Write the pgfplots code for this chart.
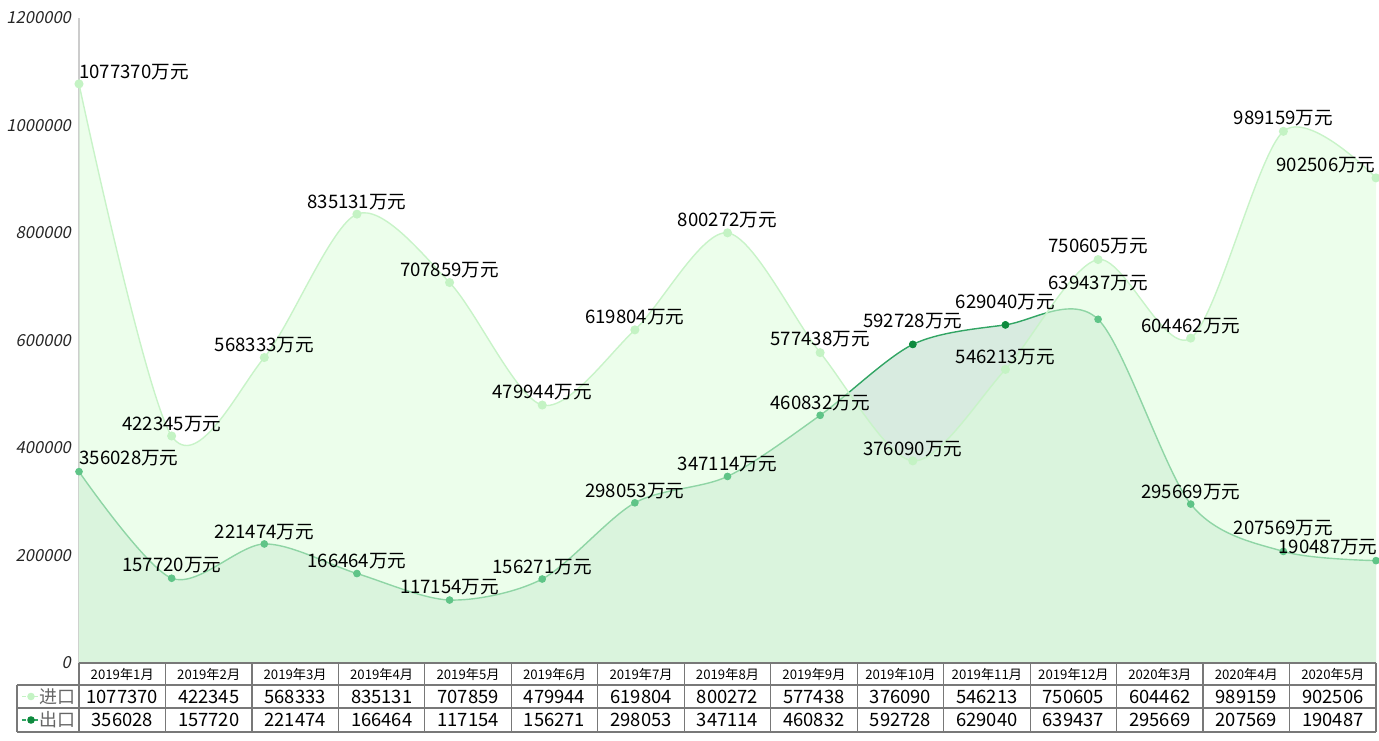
\documentclass[border=0pt]{standalone}
\usepackage{pgfplots}
\pgfplotsset{compat=1.18}
\usepackage{pgfplotstable}
\usepackage{fontspec}
\setmainfont{Noto Sans CJK SC}
\newfontfamily\tickfont{Noto Sans CJK SC}[FakeSlant=0.2]
\definecolor{impfill}{RGB}{220,253,219}
\definecolor{impline}{RGB}{200,243,200}
\definecolor{impmark}{RGB}{196,243,196}
\definecolor{expfill}{RGB}{216,235,224}
\definecolor{expline}{RGB}{50,165,100}
\definecolor{expmark}{RGB}{14,138,62}
\definecolor{expmarklight}{RGB}{95,196,135}
\definecolor{tblgrid}{RGB}{120,120,120}

\pgfplotstableread{
idx month imp exp dxi dyi dxe dye
0 2019年1月 1077370 356028 27.5 6 25 6.5
1 2019年2月 422345 157720 0 6 0 6.5
2 2019年3月 568333 221474 0 6 0 6
3 2019年4月 835131 166464 0 6 0 6
4 2019年5月 707859 117154 0 6 0 6.5
5 2019年6月 479944 156271 0 6.5 0 6
6 2019年7月 619804 298053 0 6.5 0 6
7 2019年8月 800272 347114 0 6.5 0 6
8 2019年9月 577438 460832 0 6.5 0 6
9 2019年10月 376090 592728 0 6 0 11.5
10 2019年11月 546213 629040 0 6 0 11.5
11 2019年12月 750605 639437 0 6.5 0 18
12 2020年3月 604462 295669 0 6 0 6
13 2020年4月 989159 207569 0 6.5 0 11.5
14 2020年5月 902506 190487 -25 6.5 -24 6.5
}\data

% export points lying above the import area (seen without the import overlay)
\pgfplotstableread{
idx exp
9 592728
10 629040
}\exptop

\begin{document}
\begin{tikzpicture}
\useasboundingbox (-39.5pt,-38.5pt) rectangle (650pt,331.5pt);
\begin{axis}[
  at={(0,0)}, anchor=south west,
  scale only axis, width=648.5pt, height=322.5pt,
  xmin=0, xmax=14, ymin=0, ymax=1200000,
  axis x line=none, axis y line*=left,
  y axis line style={draw=black!20, line width=0.6pt},
  ytick={0,200000,400000,600000,800000,1000000,1200000},
  xtick=\empty,
  major tick length=0pt,
  scaled y ticks=false,
  yticklabel={\pgfmathprintnumber[fixed,precision=0,1000 sep={},assume math mode=true]{\tick}},
  yticklabel style={font=\tickfont\fontsize{8.3}{9}\selectfont, text=black!85, xshift=-0.5pt},
  clip=false,
  every node near coord/.append style={anchor=center, font=\fontsize{9.3}{10}\selectfont, text=black},
]
% export area (behind)
\addplot[draw=none, fill=expfill, smooth, mark=none] table[x=idx, y=exp] {\data} \closedcycle;
\addplot[expline, line width=0.7pt, smooth, mark=none] table[x=idx, y=exp] {\data};
% import area (semi-transparent, in front)
\addplot[draw=none, fill=impfill, fill opacity=0.55, smooth, mark=none] table[x=idx, y=imp] {\data} \closedcycle;
\addplot[impline, line width=0.7pt, smooth, mark=*, mark size=1.9pt, mark options={draw=impmark, fill=impmark}] table[x=idx, y=imp] {\data};
% export markers
\addplot[only marks, mark=*, mark size=1.7pt, mark options={draw=expmarklight, fill=expmarklight}] table[x=idx, y=exp] {\data};
\addplot[only marks, mark=*, mark size=1.7pt, mark options={draw=expmark, fill=expmark}] table[x=idx, y=exp] {\exptop};
% data labels
\addplot[only marks, mark=none, point meta=explicit symbolic,
  visualization depends on={\thisrow{dxi} \as \ldx},
  visualization depends on={\thisrow{dyi} \as \ldy},
  nodes near coords={\pgfplotspointmeta 万元},
  every node near coord/.append style={xshift=\ldx pt, yshift=\ldy pt}]
  table[x=idx, y=imp, meta=imp] {\data};
\addplot[only marks, mark=none, point meta=explicit symbolic,
  visualization depends on={\thisrow{dxe} \as \ldx},
  visualization depends on={\thisrow{dye} \as \ldy},
  nodes near coords={\pgfplotspointmeta 万元},
  every node near coord/.append style={xshift=\ldx pt, yshift=\ldy pt}]
  table[x=idx, y=exp, meta=exp] {\data};
\end{axis}
% data table below the plot
\def\W{648.5}
\pgfmathsetmacro{\cw}{\W/15}
\begin{scope}[tblgrid, line width=0.6pt]
  \draw (0,0) -- (\W pt,0);
  \draw (-31pt,-11pt) -- (\W pt,-11pt);
  \draw (-31pt,-22.5pt) -- (\W pt,-22.5pt);
  \draw (-31pt,-34.5pt) -- (\W pt,-34.5pt);
  \draw (-31pt,-11pt) -- (-31pt,-34.5pt);
  \foreach \k in {0,...,15} {\draw (\k*\cw pt,0) -- (\k*\cw pt,-34.5pt);}
\end{scope}
\foreach \i in {0,...,14} {
  \pgfplotstablegetelem{\i}{month}\of\data
  \node[font=\fontsize{6.6}{7}\selectfont, text=black] at ({(\i+0.5)*\cw pt},-5.5pt) {\pgfplotsretval};
  \pgfplotstablegetelem{\i}{imp}\of\data
  \node[font=\fontsize{9.2}{10}\selectfont, text=black] at ({(\i+0.5)*\cw pt},-16.75pt) {\pgfplotsretval};
  \pgfplotstablegetelem{\i}{exp}\of\data
  \node[font=\fontsize{9.2}{10}\selectfont, text=black] at ({(\i+0.5)*\cw pt},-28.5pt) {\pgfplotsretval};
}
% legend cells
\draw[impmark, line width=0.8pt, dash pattern=on 2pt off 1pt] (-28.5pt,-16.75pt) -- (-19.5pt,-16.75pt);
\fill[impmark] (-24pt,-16.75pt) circle (1.9pt);
\node[font=\fontsize{9}{10}\selectfont, text=black!60] at (-10.75pt,-16.75pt) {进口};
\draw[expline, line width=0.8pt, dash pattern=on 2pt off 1pt] (-28.5pt,-28.5pt) -- (-19.5pt,-28.5pt);
\fill[expmark] (-24pt,-28.5pt) circle (1.9pt);
\node[font=\fontsize{9}{10}\selectfont, text=black!60] at (-10.75pt,-28.5pt) {出口};
\end{tikzpicture}
\end{document}
